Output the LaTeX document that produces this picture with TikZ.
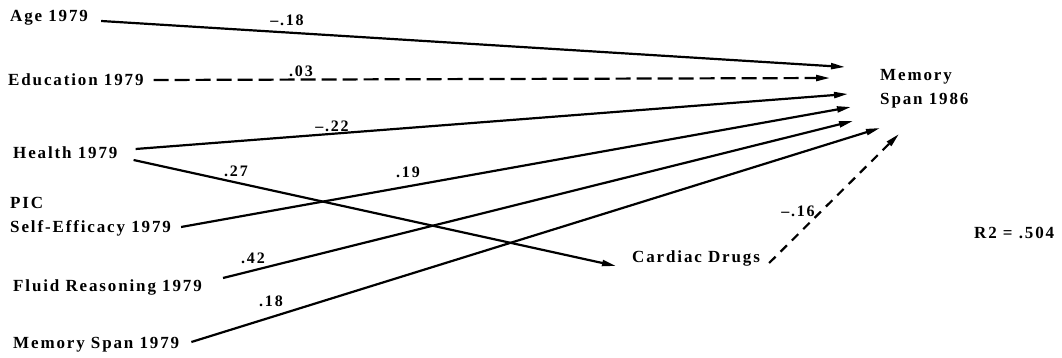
\documentclass[tikz,border=0pt]{standalone}
\usepackage{fontspec}
\setmainfont{Liberation Serif}[LetterSpace=11]
\usetikzlibrary{arrows.meta}
\begin{document}
\begin{tikzpicture}[x=1pt,y=-1pt,
  lab/.style={font=\bfseries\fontsize{17}{24}\selectfont, inner sep=0pt, anchor=west, align=left},
  coef/.style={font=\bfseries\fontsize{16}{18}\selectfont, inner sep=0pt},
  arr/.style={line width=2.2pt, -{Triangle[length=14pt,width=6pt]}},
  dsh/.style={arr, dash pattern=on 15pt off 6pt},
  dsh2/.style={arr, dash pattern=on 9pt off 7pt}]
\useasboundingbox (0,0) rectangle (1062,358);
% variables
\node[lab] (age) at (10,18) {Age 1979};
\node[lab] (edu) at (8,80) {Education 1979};
\node[lab] (health) at (13,153) {Health 1979};
\node[lab] (pic) at (10,217) {PIC\\Self-Efficacy 1979};
\node[lab] (fluid) at (13,287) {Fluid Reasoning 1979};
\node[lab] (mem79) at (13,345) {Memory Span 1979};
\node[lab] (cd) at (632,258) {Cardiac Drugs};
\node[lab] (ms86) at (880,88.5) {Memory\\Span 1986};
\node[lab] (r2) at (974,233) {R2 = .504};
% arrow ends near outcome
\coordinate (tage) at (845,67);
\coordinate (tedu) at (830,78);
\coordinate (thealth) at (848,94);
\coordinate (tpic) at (851,107);
\coordinate (tfluid) at (853,121);
\coordinate (tmem) at (880,128);
\coordinate (tcd) at (899,134);
% connectors
\draw[arr] ([xshift=13pt,yshift=-3pt]age.east) -- (tage);
\draw[dsh] ([xshift=10pt]edu.east) -- (tedu);
\draw[arr] ([xshift=18pt,yshift=4pt]health.east) -- (thealth);
\draw[arr] ([xshift=16pt,yshift=-7pt]health.east) -- ([xshift=-16pt,yshift=-8pt]cd.west);
\draw[arr] ([xshift=10pt,yshift=-10pt]pic.east) -- (tpic);
\draw[arr] ([xshift=21pt,yshift=9pt]fluid.east) -- (tfluid);
\draw[arr] ([xshift=12pt,yshift=3pt]mem79.east) -- (tmem);
\draw[dsh2] ([xshift=9pt,yshift=-5pt]cd.east) -- (tcd);
% coefficients
\node[coef] (c1) at (287,20) {\textendash.18};
\node[coef] (c2) at (301,71) {.03};
\node[coef] (c3) at (332,126) {\textendash.22};
\node[coef] (c4) at (236,171) {.27};
\node[coef] (c5) at (408,172) {.19};
\node[coef] (c6) at (253,258) {.42};
\node[coef] (c7) at (271,301) {.18};
\node[coef] (c8) at (798,211) {\textendash.16};
\end{tikzpicture}
\end{document}
